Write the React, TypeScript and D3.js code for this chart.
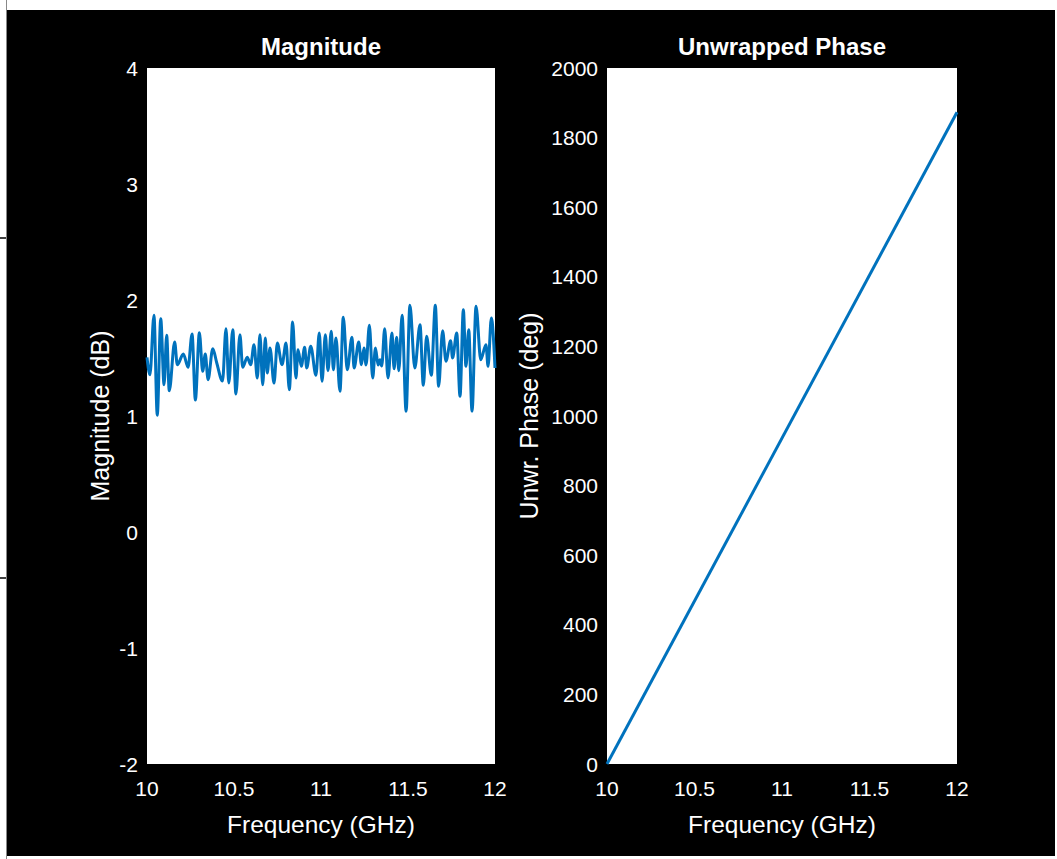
import React from "react";
import * as d3 from "d3";

// Magnitude data (frequency in GHz, magnitude in dB)
const magFreq = [
  10.0, 10.017, 10.04, 10.059, 10.079, 10.098, 10.113, 10.128, 10.159, 10.174,
  10.209, 10.236, 10.259, 10.278, 10.301, 10.32, 10.335, 10.351, 10.378, 10.401,
  10.434, 10.454, 10.47, 10.493, 10.511, 10.534, 10.55, 10.576, 10.596, 10.615,
  10.634, 10.649, 10.665, 10.68, 10.691, 10.707, 10.73, 10.749, 10.776, 10.799,
  10.818, 10.837, 10.856, 10.868, 10.887, 10.906, 10.918, 10.941, 10.971, 10.99,
  11.006, 11.025, 11.04, 11.059, 11.071, 11.086, 11.109, 11.128, 11.151, 11.178,
  11.19, 11.217, 11.232, 11.247, 11.259, 11.278, 11.297, 11.313, 11.328, 11.339,
  11.349, 11.366, 11.385, 11.408, 11.42, 11.435, 11.447, 11.466, 11.489, 11.511,
  11.539, 11.569, 11.588, 11.607, 11.634, 11.657, 11.676, 11.699, 11.718, 11.745,
  11.756, 11.78, 11.799, 11.818, 11.833, 11.849, 11.868, 11.891, 11.918, 11.948,
  11.96, 11.979, 12.0,
];
const magDb = [
  1.506, 1.356, 1.868, 1.006, 1.839, 1.27, 1.696, 1.218, 1.638, 1.442,
  1.534, 1.42, 1.707, 1.138, 1.718, 1.385, 1.534, 1.313, 1.58, 1.457,
  1.302, 1.753, 1.284, 1.744, 1.19, 1.701, 1.42, 1.506, 1.442, 1.615,
  1.328, 1.701, 1.27, 1.672, 1.371, 1.586, 1.284, 1.629, 1.442, 1.629,
  1.227, 1.81, 1.328, 1.572, 1.428, 1.592, 1.414, 1.601, 1.351, 1.716,
  1.299, 1.701, 1.391, 1.73, 1.399, 1.672, 1.213, 1.851, 1.399, 1.678,
  1.414, 1.638, 1.442, 1.586, 1.44, 1.782, 1.328, 1.586, 1.44, 1.485,
  1.431, 1.753, 1.328, 1.716, 1.408, 1.678, 1.391, 1.868, 1.041, 1.954,
  1.414, 1.787, 1.265, 1.687, 1.351, 1.954, 1.256, 1.735, 1.472, 1.649,
  1.5, 1.716, 1.17, 1.916, 1.428, 1.744, 1.041, 1.946, 1.485, 1.615,
  1.428, 1.845, 1.414,
];

// Unwrapped phase data (frequency in GHz, phase in degrees)
const phaseFreq = [10, 12];
const phaseDeg = [0, 1873];

const xTicks = [10, 10.5, 11, 11.5, 12];
const magTicks = [-2, -1, 0, 1, 2, 3, 4];
const phaseTicks = [0, 200, 400, 600, 800, 1000, 1200, 1400, 1600, 1800, 2000];

const W = 1057;
const H = 859;
const FONT = "'Liberation Sans', Arial, Helvetica, sans-serif";
const LINE = "#0072BD";

type PanelProps = {
  left: number;
  right: number;
  top: number;
  bottom: number;
  title: string;
  yLabel: string;
  yLabelX: number;
  yDomain: [number, number];
  yTicks: number[];
  xs: number[];
  ys: number[];
};

function Panel(p: PanelProps) {
  const x = d3.scaleLinear().domain([10, 12]).range([p.left, p.right]);
  const y = d3.scaleLinear().domain(p.yDomain).range([p.bottom, p.top]);
  const pts: [number, number][] = p.xs.map((f, i) => [f, p.ys[i]]);
  const line = d3
    .line<[number, number]>()
    .x((d) => x(d[0]))
    .y((d) => y(d[1]))
    .curve(d3.curveMonotoneX);
  const cx = (p.left + p.right) / 2;
  const cy = (p.top + p.bottom) / 2;
  return (
    <g>
      <rect
        x={p.left}
        y={p.top}
        width={p.right - p.left}
        height={p.bottom - p.top}
        fill="#ffffff"
      />
      <path d={line(pts) || ""} fill="none" stroke={LINE} strokeWidth={3} strokeLinejoin="round" />
      {p.yTicks.map((t) => (
        <text
          key={"y" + t}
          x={p.left - 9}
          y={y(t)}
          dy="0.36em"
          textAnchor="end"
          fill="#ffffff"
          fontSize={21}
          fontFamily={FONT}
        >
          {t}
        </text>
      ))}
      {xTicks.map((t) => (
        <text
          key={"x" + t}
          x={x(t)}
          y={p.bottom + 32}
          textAnchor="middle"
          fill="#ffffff"
          fontSize={21}
          fontFamily={FONT}
        >
          {t}
        </text>
      ))}
      <text
        x={cx}
        y={p.top - 13}
        textAnchor="middle"
        fill="#ffffff"
        fontSize={24}
        fontWeight="bold"
        fontFamily={FONT}
      >
        {p.title}
      </text>
      <text
        x={cx}
        y={p.bottom + 69}
        textAnchor="middle"
        fill="#ffffff"
        fontSize={24.5}
        fontFamily={FONT}
      >
        Frequency (GHz)
      </text>
      <text
        transform={`translate(${p.yLabelX},${cy}) rotate(-90)`}
        textAnchor="middle"
        fill="#ffffff"
        fontSize={25}
        fontFamily={FONT}
      >
        {p.yLabel}
      </text>
    </g>
  );
}

export default function App() {
  return (
    <svg
      width={W}
      height={H}
      style={{ position: "absolute", left: 0, top: 0, display: "block" }}
    >
      <rect x={0} y={0} width={W} height={H} fill="#ffffff" />
      <rect x={7} y={10} width={1048} height={846} fill="#000000" />
      <line x1={6.5} y1={0} x2={6.5} y2={H} stroke="#888888" strokeWidth={1} />
      <line x1={0} y1={238} x2={6} y2={238} stroke="#000000" strokeWidth={1.5} />
      <line x1={0} y1={578} x2={6} y2={578} stroke="#000000" strokeWidth={1.5} />
      <Panel
        left={147}
        right={495}
        top={68}
        bottom={764}
        title="Magnitude"
        yLabel="Magnitude (dB)"
        yLabelX={109}
        yDomain={[-2, 4]}
        yTicks={magTicks}
        xs={magFreq}
        ys={magDb}
      />
      <Panel
        left={607}
        right={957}
        top={68}
        bottom={764}
        title="Unwrapped Phase"
        yLabel="Unwr. Phase (deg)"
        yLabelX={538}
        yDomain={[0, 2000]}
        yTicks={phaseTicks}
        xs={phaseFreq}
        ys={phaseDeg}
      />
    </svg>
  );
}
